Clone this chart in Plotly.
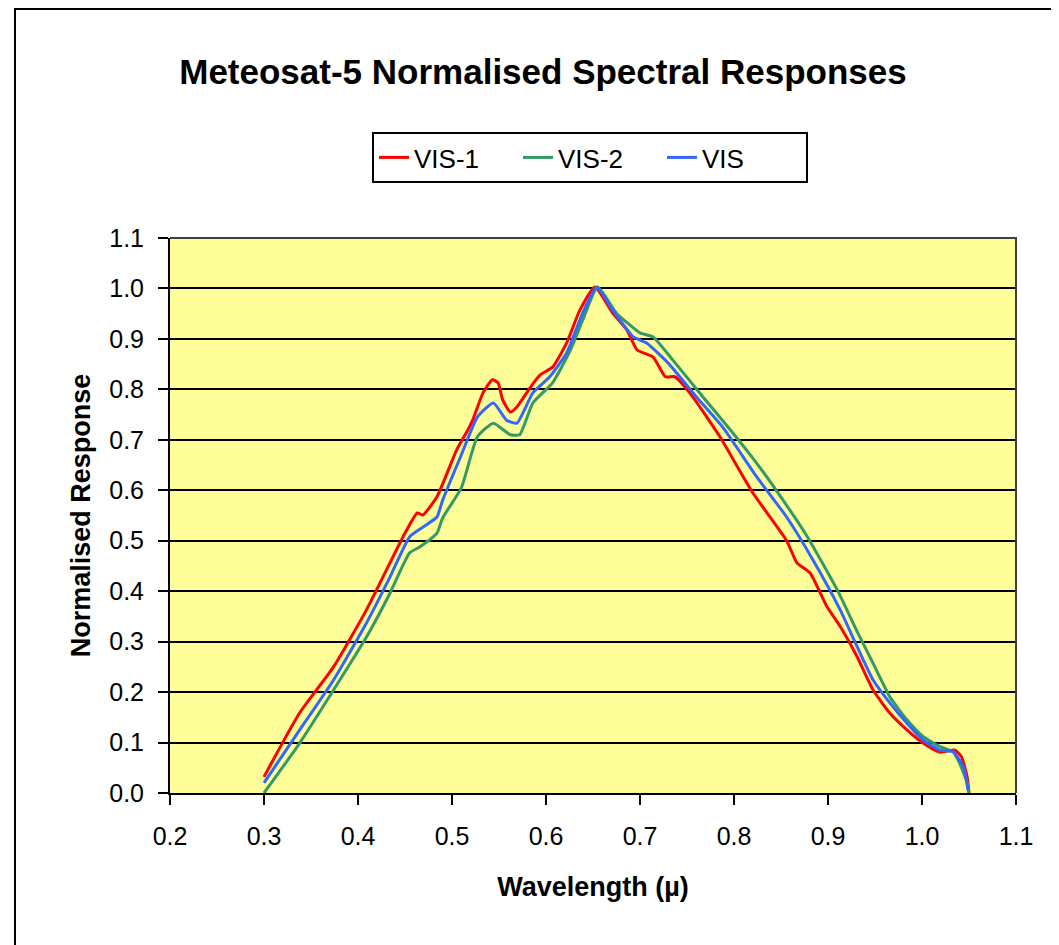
import plotly.graph_objects as go

# ---- data ----
vis1_x = [0.300, 0.338, 0.374, 0.409, 0.434, 0.448, 0.463, 0.469, 0.484, 0.505, 0.517, 0.522,
          0.533, 0.543, 0.549, 0.554, 0.562, 0.569, 0.583, 0.594, 0.607, 0.622, 0.636, 0.652,
          0.671, 0.686, 0.697, 0.714, 0.727, 0.737, 0.753, 0.785, 0.820, 0.856, 0.867, 0.881,
          0.899, 0.913, 0.931, 0.948, 0.966, 0.984, 1.001, 1.019, 1.035, 1.042, 1.048, 1.050]
vis1_y = [0.032, 0.159, 0.250, 0.363, 0.456, 0.508, 0.555, 0.551, 0.587, 0.680, 0.720, 0.739,
          0.793, 0.819, 0.813, 0.779, 0.755, 0.765, 0.803, 0.829, 0.844, 0.892, 0.957, 1.003,
          0.951, 0.918, 0.878, 0.864, 0.825, 0.825, 0.793, 0.706, 0.595, 0.500, 0.456, 0.436,
          0.369, 0.330, 0.270, 0.204, 0.158, 0.125, 0.099, 0.081, 0.085, 0.072, 0.032, 0.000]

vis2_x = [0.300, 0.338, 0.374, 0.409, 0.434, 0.455, 0.466, 0.484, 0.490, 0.510, 0.527, 0.544,
          0.562, 0.572, 0.586, 0.607, 0.626, 0.639, 0.655, 0.675, 0.700, 0.714, 0.735, 0.767,
          0.796, 0.824, 0.852, 0.878, 0.910, 0.931, 0.948, 0.966, 0.984, 1.001, 1.019, 1.033,
          1.040, 1.048, 1.050]
vis2_y = [0.000, 0.099, 0.204, 0.309, 0.396, 0.476, 0.488, 0.515, 0.545, 0.605, 0.706, 0.733,
          0.710, 0.710, 0.773, 0.813, 0.878, 0.937, 1.003, 0.951, 0.912, 0.904, 0.858, 0.785,
          0.720, 0.654, 0.581, 0.508, 0.402, 0.320, 0.257, 0.190, 0.145, 0.112, 0.092, 0.082,
          0.059, 0.020, 0.000]

vis_x = [0.300, 0.338, 0.374, 0.409, 0.434, 0.455, 0.469, 0.484, 0.490, 0.509, 0.527, 0.544,
         0.558, 0.569, 0.586, 0.604, 0.622, 0.639, 0.654, 0.671, 0.693, 0.707, 0.730, 0.760,
         0.788, 0.824, 0.856, 0.884, 0.913, 0.931, 0.948, 0.966, 0.984, 1.001, 1.019, 1.033,
         1.044, 1.049]
vis_y = [0.020, 0.125, 0.224, 0.337, 0.428, 0.508, 0.527, 0.547, 0.580, 0.666, 0.745, 0.773,
         0.739, 0.733, 0.793, 0.825, 0.872, 0.951, 1.003, 0.957, 0.904, 0.892, 0.852, 0.785,
         0.725, 0.627, 0.547, 0.462, 0.363, 0.290, 0.224, 0.178, 0.138, 0.105, 0.085, 0.082,
         0.052, 0.005]

series_names = ["VIS-1", "VIS-2", "VIS"]
series_colors = ["#FF0000", "#339966", "#3366FF"]

x_ticks = [0.2, 0.3, 0.4, 0.5, 0.6, 0.7, 0.8, 0.9, 1.0, 1.1]
y_ticks = [0.0, 0.1, 0.2, 0.3, 0.4, 0.5, 0.6, 0.7, 0.8, 0.9, 1.0, 1.1]

FONT = "Liberation Sans, Arial, sans-serif"

fig = go.Figure()
for name, xs, ys, col in zip(series_names, [vis1_x, vis2_x, vis_x], [vis1_y, vis2_y, vis_y], series_colors):
    fig.add_trace(go.Scatter(x=xs, y=ys, name=name, mode="lines",
                             line=dict(color=col, width=3, shape="spline", smoothing=0.5)))

W, H = 1059, 945
OFF = 8  # page body margin
# target plot area in page pixels: x 170..1016, y 238..793
L, T = 170 - OFF, 238 - OFF
R = W + OFF - 1016
B = H + OFF - 793
pw, ph = 1016 - 170, 793 - 238

def px_x(p):
    return (p - 170) / pw

def px_y(p):
    return (793 - p) / ph

fig.update_layout(
    width=W, height=H,
    margin=dict(l=L, r=R, t=T, b=B, pad=0),
    paper_bgcolor="white",
    plot_bgcolor="#FFFF99",
    font=dict(family=FONT, color="black"),
    title=dict(text="<b>Meteosat-5 Normalised Spectral Responses</b>",
               x=(543 - OFF) / W, xanchor="center", y=1 - (72 - OFF) / H, yanchor="middle",
               font=dict(size=35, family=FONT, color="black")),
    legend=dict(orientation="h", x=px_x(590), xanchor="center", y=px_y(132), yanchor="top",
                bordercolor="black", borderwidth=2, bgcolor="white",
                font=dict(size=26, family=FONT, color="black"),
                entrywidth=99, entrywidthmode="pixels",
                itemwidth=30, tracegroupgap=0),
    showlegend=True,
)

fig.update_xaxes(range=[0.2, 1.1], tickvals=x_ticks, ticktext=[f"{v:.1f}" for v in x_ticks],
                 showgrid=False, zeroline=False,
                 showline=True, linecolor="black", linewidth=2,
                 ticks="outside", ticklen=10, tickwidth=2, tickcolor="black",
                 ticklabelstandoff=10,
                 tickfont=dict(size=25, family=FONT, color="black"),
                 title=dict(text="<b>Wavelength (µ)</b>", font=dict(size=27, family=FONT, color="black"),
                            standoff=28))
fig.update_yaxes(range=[0.0, 1.1], tickvals=y_ticks, ticktext=[f"{v:.1f}" for v in y_ticks],
                 showgrid=True, gridcolor="black", gridwidth=2, zeroline=False,
                 showline=True, linecolor="black", linewidth=2,
                 ticks="outside", ticklen=10, tickwidth=2, tickcolor="black",
                 ticklabelstandoff=9,
                 tickfont=dict(size=25, family=FONT, color="black"),
                 title=dict(text="<b>Normalised Response</b>", font=dict(size=27, family=FONT, color="black"),
                            standoff=11))

# plot-area border (top and right, dark grey)
fig.add_shape(type="path", xref="paper", yref="paper",
              path="M 0,1 L 1,1 L 1,0", line=dict(color="#404040", width=2), layer="above")
# chart frame
fig.add_shape(type="rect", xref="paper", yref="paper",
              x0=px_x(15), x1=px_x(1075), y0=px_y(960), y1=px_y(9),
              line=dict(color="black", width=2), fillcolor="rgba(0,0,0,0)", layer="above")

fig.write_html("out.html")
